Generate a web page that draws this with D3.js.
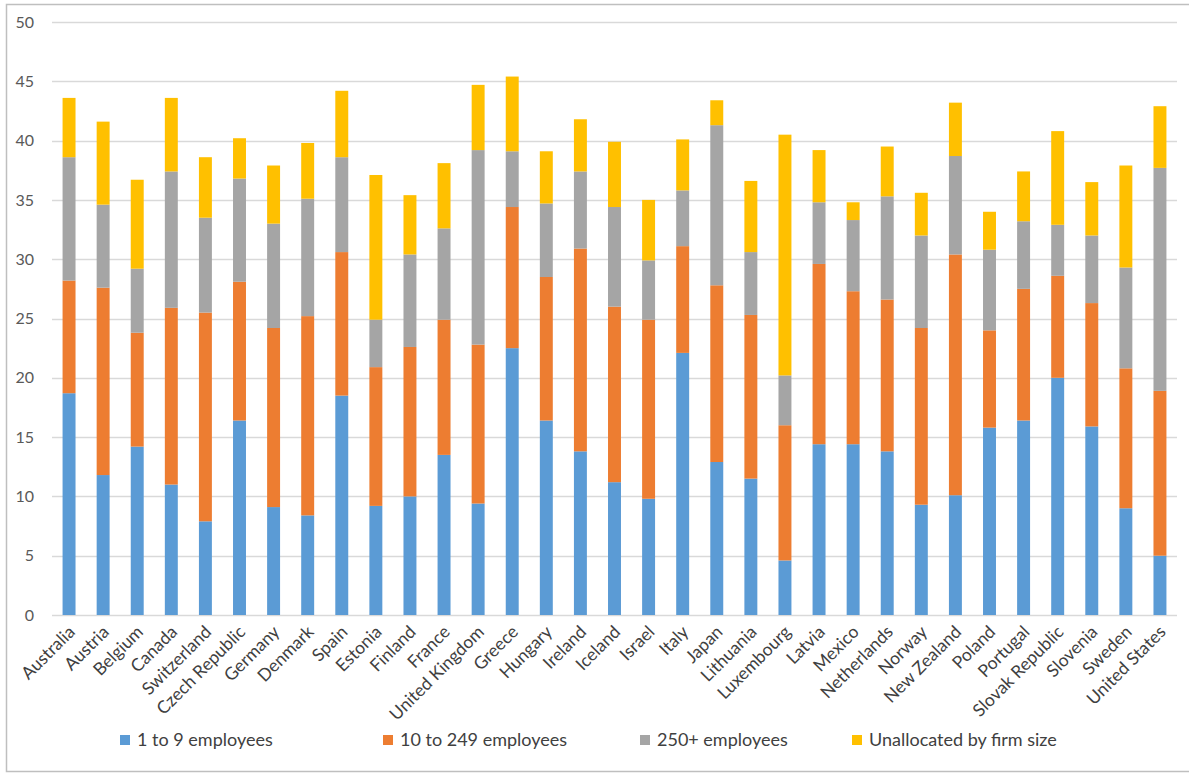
<!DOCTYPE html>
<html lang="en">
  <head>
    <meta charset="utf-8">
    <title>Self-employment by firm size</title>
    <script src="https://cdn.jsdelivr.net/npm/d3@7"></script>
    <style>
      body { margin: 0; background: #fff; }
      text { font-family: Lato, "Noto Sans", sans-serif; }
    </style>
  </head>
  <body>
    <script>
      var countries = ["Australia", "Austria", "Belgium", "Canada", "Switzerland", "Czech Republic",
        "Germany", "Denmark", "Spain", "Estonia", "Finland", "France", "United Kingdom", "Greece",
        "Hungary", "Ireland", "Iceland", "Israel", "Italy", "Japan", "Lithuania", "Luxembourg",
        "Latvia", "Mexico", "Netherlands", "Norway", "New Zealand", "Poland", "Portugal",
        "Slovak Republic", "Slovenia", "Sweden", "United States"];

      var micro = [18.7, 11.8, 14.2, 11.0, 7.9, 16.4, 9.1, 8.4, 18.5, 9.2, 10.0, 13.5, 9.4, 22.5,
        16.4, 13.8, 11.2, 9.8, 22.1, 12.9, 11.5, 4.6, 14.4, 14.4, 13.8, 9.3, 10.1, 15.8, 16.4,
        20.0, 15.9, 9.0, 5.0];
      var sme = [9.5, 15.8, 9.6, 14.9, 17.6, 11.7, 15.1, 16.8, 12.1, 11.7, 12.6, 11.4, 13.4, 11.9,
        12.1, 17.1, 14.8, 15.1, 9.0, 14.9, 13.8, 11.4, 15.2, 12.9, 12.8, 14.9, 20.3, 8.2, 11.1,
        8.6, 10.4, 11.8, 13.9];
      var large = [10.4, 7.0, 5.4, 11.5, 8.0, 8.7, 8.8, 9.9, 8.0, 4.0, 7.8, 7.7, 16.4, 4.7,
        6.2, 6.5, 8.4, 5.0, 4.7, 13.5, 5.3, 4.2, 5.2, 6.0, 8.7, 7.8, 8.3, 6.8, 5.7,
        4.3, 5.7, 8.5, 18.8];
      var unallocated = [5.0, 7.0, 7.5, 6.2, 5.1, 3.4, 4.9, 4.7, 5.6, 12.2, 5.0, 5.5, 5.5, 6.3,
        4.4, 4.4, 5.5, 5.1, 4.3, 2.1, 6.0, 20.3, 4.4, 1.5, 4.2, 3.6, 4.5, 3.2, 4.2,
        7.9, 4.5, 8.6, 5.2];

      var seriesNames = ["1 to 9 employees", "10 to 249 employees", "250+ employees", "Unallocated by firm size"];
      var seriesColors = ["#5B9BD5", "#ED7D31", "#A5A5A5", "#FFC000"];
      var yTicks = [0, 5, 10, 15, 20, 25, 30, 35, 40, 45, 50];

      var w = 1189, h = 776;
      var svg = d3.select("body").append("svg")
        .attr("width", w)
        .attr("height", h);

      // title sits above the cropped frame, only its descenders show
      svg.append("text")
        .attr("x", 120)
        .attr("y", -3.5)
        .attr("font-size", "19px")
        .attr("fill", "#000")
        .text("Self-employment by firm size, OECD countries, latest year (%)");
      svg.append("path")
        .attr("d", "M1189,4.5H6.5V771.5H1189")
        .attr("fill", "none")
        .attr("stroke", "#bfbfbf")
        .attr("stroke-width", 1.5);

      var rows = countries.map(function(c, i) {
        return { country: c, s0: micro[i], s1: sme[i], s2: large[i], s3: unallocated[i] };
      });
      var stack = d3.stack().keys(["s0", "s1", "s2", "s3"]);
      var layers = stack(rows);

      var x = d3.scaleBand()
        .domain(countries)
        .range([52, 1177])
        .paddingInner(0.62)
        .paddingOuter(0.31);
      var y = d3.scaleLinear()
        .domain([0, 50])
        .range([615, 22]);

      // gridlines
      svg.append("g")
        .selectAll("line")
        .data(yTicks)
        .enter()
        .append("line")
        .attr("x1", 52)
        .attr("x2", 1177)
        .attr("y1", function(d) { return Math.round(y(d)) + 0.5; })
        .attr("y2", function(d) { return Math.round(y(d)) + 0.5; })
        .attr("stroke", "#d9d9d9")
        .attr("stroke-width", 1.3);

      // y axis labels
      var yAxis = d3.axisLeft(y).tickValues(yTicks).tickSize(0).tickPadding(0);
      var yg = svg.append("g")
        .attr("transform", "translate(34,0)")
        .call(yAxis);
      yg.select(".domain").remove();
      yg.selectAll("text")
        .attr("font-family", "Lato, sans-serif")
        .attr("font-size", "16px")
        .attr("fill", "#595959");

      // bars
      svg.append("g")
        .selectAll("g")
        .data(layers)
        .enter()
        .append("g")
        .attr("fill", function(d, i) { return seriesColors[i]; })
        .selectAll("rect")
        .data(function(d) { return d; })
        .enter()
        .append("rect")
        .attr("x", function(d) { return x(d.data.country); })
        .attr("y", function(d) { return y(d[1]); })
        .attr("width", x.bandwidth())
        .attr("height", function(d) { return y(d[0]) - y(d[1]); });

      // x axis labels
      var xAxis = d3.axisBottom(x).tickSize(0).tickPadding(0);
      var xg = svg.append("g")
        .attr("transform", "translate(0,615)")
        .call(xAxis);
      xg.select(".domain").remove();
      xg.selectAll("text")
        .attr("font-family", "Lato, sans-serif")
        .attr("font-size", "17.5px")
        .attr("fill", "#404040")
        .attr("text-anchor", "end")
        .attr("dy", null)
        .attr("y", 0)
        .attr("transform", "translate(7,18) rotate(-45)");

      // legend
      var legendX = [120, 383, 640, 852];
      var legend = svg.append("g")
        .selectAll("g")
        .data(seriesNames)
        .enter()
        .append("g")
        .attr("transform", function(d, i) { return "translate(" + legendX[i] + ",740)"; });
      legend.append("rect")
        .attr("x", 0)
        .attr("y", -5)
        .attr("width", 10)
        .attr("height", 10)
        .attr("fill", function(d, i) { return seriesColors[i]; });
      legend.append("text")
        .attr("x", 17)
        .attr("y", 6)
        .attr("font-size", "18px")
        .attr("fill", "#404040")
        .text(function(d) { return d; });
    </script>
  </body>
</html>
